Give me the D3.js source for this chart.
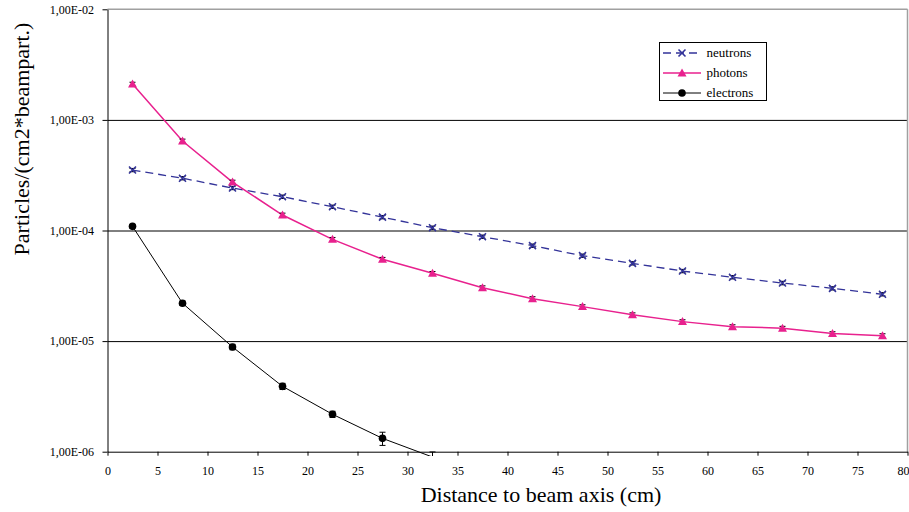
<!DOCTYPE html>
<html><head><meta charset="utf-8">
<script src="https://cdn.jsdelivr.net/npm/d3@7"></script>
<style>
body{margin:0;background:#fff;}
svg{display:block;}
svg text{font-family:"Times New Roman","Liberation Serif",Tinos,"DejaVu Serif",serif !important;}
</style>
</head><body>
<svg id="c" width="909" height="512"></svg>
<script>
// ---------- data ----------
const distances = [2.5,7.5,12.5,17.5,22.5,27.5,32.5,37.5,42.5,47.5,52.5,57.5,62.5,67.5,72.5,77.5];
const neutrons = [3.52e-4,2.97e-4,2.42e-4,2.02e-4,1.64e-4,1.32e-4,1.06e-4,8.79e-5,7.29e-5,5.92e-5,5.05e-5,4.30e-5,3.78e-5,3.35e-5,3.00e-5,2.65e-5];
const neutronErr = [1.2e-5,1.0e-5,8e-6,7e-6,5.5e-6,4.5e-6,3.6e-6,3e-6,2.5e-6,2e-6,1.7e-6,1.5e-6,1.3e-6,1.2e-6,1.0e-6,0.9e-6];
const photons = [2.11e-3,6.45e-4,2.74e-4,1.38e-4,8.32e-5,5.49e-5,4.10e-5,3.04e-5,2.42e-5,2.05e-5,1.73e-5,1.50e-5,1.35e-5,1.31e-5,1.17e-5,1.12e-5];
const photonErr = [8e-5,2.5e-5,1.1e-5,5.5e-6,3.3e-6,2.2e-6,1.6e-6,1.2e-6,1.0e-6,0.8e-6,0.7e-6,0.6e-6,0.55e-6,0.5e-6,0.45e-6,0.45e-6];
const electronDistances = [2.5,7.5,12.5,17.5,22.5,27.5,32.5];
const electrons = [1.09e-4,2.20e-5,8.85e-6,3.90e-6,2.18e-6,1.32e-6,8.95e-7];
const electronErr = [4e-6,1e-6,5e-7,2.5e-7,1.4e-7,1.8e-7,1.0e-7];
const seriesNames = ["neutrons","photons","electrons"];
const xTickValues = [0,5,10,15,20,25,30,35,40,45,50,55,60,65,70,75,80];
const yTickValues = [1e-2,1e-3,1e-4,1e-5,1e-6];
const yTickLabels = ["1,00E-02","1,00E-03","1,00E-04","1,00E-05","1,00E-06"];
const xTitle = "Distance to beam axis (cm)";
const yTitle = "Particles/(cm2*beampart.)";

// ---------- setup ----------
const svg = d3.select("#c");
const L = 107.5, R = 907.5, T = 9.3, B = 451.7;
const x = d3.scaleLinear().domain([0,80]).range([L,R]);
const y = d3.scaleLog().domain([1e-6,1e-2]).range([B,T]);

const colN = "#333399", colP = "#E8218E", colE = "#000000";

svg.append("defs").append("clipPath").attr("id","clip")
  .append("rect").attr("x",L).attr("y",T-1).attr("width",R-L+1).attr("height",456-(T-1));

// gridlines
const grid = svg.append("g").attr("transform",`translate(${L},0)`)
  .call(d3.axisLeft(y).tickValues([1e-3,1e-4,1e-5]).tickSize(-(R-L)).tickFormat(""));
grid.select(".domain").remove();
grid.selectAll("line").attr("stroke","#000").attr("stroke-width",1);

// plot border top/right
svg.append("line").attr("x1",L).attr("x2",R).attr("y1",T).attr("y2",T).attr("stroke","#a0a0a0").attr("stroke-width",1.5);
svg.append("line").attr("x1",R).attr("x2",R).attr("y1",T).attr("y2",B).attr("stroke","#a0a0a0").attr("stroke-width",1.5);

// axes
const ya = svg.append("g").attr("transform",`translate(${L},0)`)
  .call(d3.axisLeft(y).tickValues(yTickValues).tickFormat((d,i)=>yTickLabels[i]).tickSize(5).tickSizeOuter(0).tickPadding(8.5));
ya.attr("font-family",null);
ya.selectAll("text").attr("font-size",12).attr("fill","#000");
ya.selectAll("line,path").attr("stroke","#000");

const xa = svg.append("g").attr("transform",`translate(0,${B})`)
  .call(d3.axisBottom(x).tickValues(xTickValues).tickFormat(d3.format("d")).tickSize(4).tickSizeOuter(0).tickPadding(10.5));
xa.attr("font-family",null);
xa.selectAll("text").attr("font-size",12).attr("fill","#000");
xa.selectAll("text").filter(d=>d===80).attr("text-anchor","end").attr("x",1.5);
xa.selectAll("line,path").attr("stroke","#000");

// titles
svg.append("text").attr("x",541).attr("y",502).attr("text-anchor","middle")
  .attr("font-size",22).attr("fill","#000").text(xTitle);
svg.append("text").attr("transform","translate(29,139) rotate(-90)").attr("text-anchor","middle")
  .attr("font-size",22).attr("fill","#000").text(yTitle);

// ---------- series ----------
const plot = svg.append("g").attr("clip-path","url(#clip)");
const line = d3.line().x(d=>x(d[0])).y(d=>y(d[1]));

function series(xs, vals, errs, color, width, dash, marker){
  const pts = xs.map((d,i)=>[d, vals[i], errs[i]]);
  plot.append("path").datum(pts).attr("d",line).attr("fill","none")
    .attr("stroke",color).attr("stroke-width",width).attr("stroke-dasharray",dash||null);
  const eb = plot.append("g").attr("stroke","#000").attr("stroke-width",1);
  pts.forEach(p=>{
    const cx = x(p[0]), y1 = y(Math.max(p[1]-p[2],1e-9)), y2 = y(p[1]+p[2]);
    eb.append("line").attr("x1",cx).attr("x2",cx).attr("y1",y1).attr("y2",y2);
    eb.append("line").attr("x1",cx-3).attr("x2",cx+3).attr("y1",y1).attr("y2",y1);
    eb.append("line").attr("x1",cx-3).attr("x2",cx+3).attr("y1",y2).attr("y2",y2);
  });
  const mg = plot.append("g");
  pts.filter(p=>p[1]>=1e-6).forEach(p=>marker(mg, x(p[0]), y(p[1])));
}
function xMark(g,cx,cy){
  g.append("path").attr("d",`M${cx-3.5},${cy-3.5}L${cx+3.5},${cy+3.5}M${cx-3.5},${cy+3.5}L${cx+3.5},${cy-3.5}`)
   .attr("stroke",colN).attr("stroke-width",1.6).attr("fill","none");
}
function triMark(g,cx,cy){
  g.append("path").attr("d",`M${cx},${cy-4.5}L${cx+4.5},${cy+3.5}L${cx-4.5},${cy+3.5}Z`).attr("fill",colP);
}
function dotMark(g,cx,cy){
  g.append("circle").attr("cx",cx).attr("cy",cy).attr("r",3.8).attr("fill",colE);
}

series(distances, neutrons, neutronErr, colN, 1.3, "8,5", xMark);
series(distances, photons, photonErr, colP, 1.5, null, triMark);
series(electronDistances, electrons, electronErr, colE, 1, null, dotMark);

// ---------- legend ----------
const lg = svg.append("g");
lg.append("rect").attr("x",659.5).attr("y",42.5).attr("width",107).attr("height",58)
  .attr("fill","#fff").attr("stroke","#000").attr("stroke-width",1);
const legendStyles = [
  {color:colN, width:1.3, dash:"8,5", marker:xMark},
  {color:colP, width:1.5, dash:null, marker:triMark},
  {color:colE, width:1, dash:null, marker:dotMark}
];
seriesNames.forEach((name,i)=>{
  const yy = 53 + i*20;
  const s = legendStyles[i];
  lg.append("line").attr("x1",663).attr("x2",701).attr("y1",yy).attr("y2",yy)
    .attr("stroke",s.color).attr("stroke-width",s.width).attr("stroke-dasharray",s.dash);
  s.marker(lg, 682, yy);
  lg.append("text").attr("x",706.5).attr("y",yy).attr("dy","0.32em")
    .attr("font-size",13).attr("fill","#000").text(name);
});
</script>
</body></html>
